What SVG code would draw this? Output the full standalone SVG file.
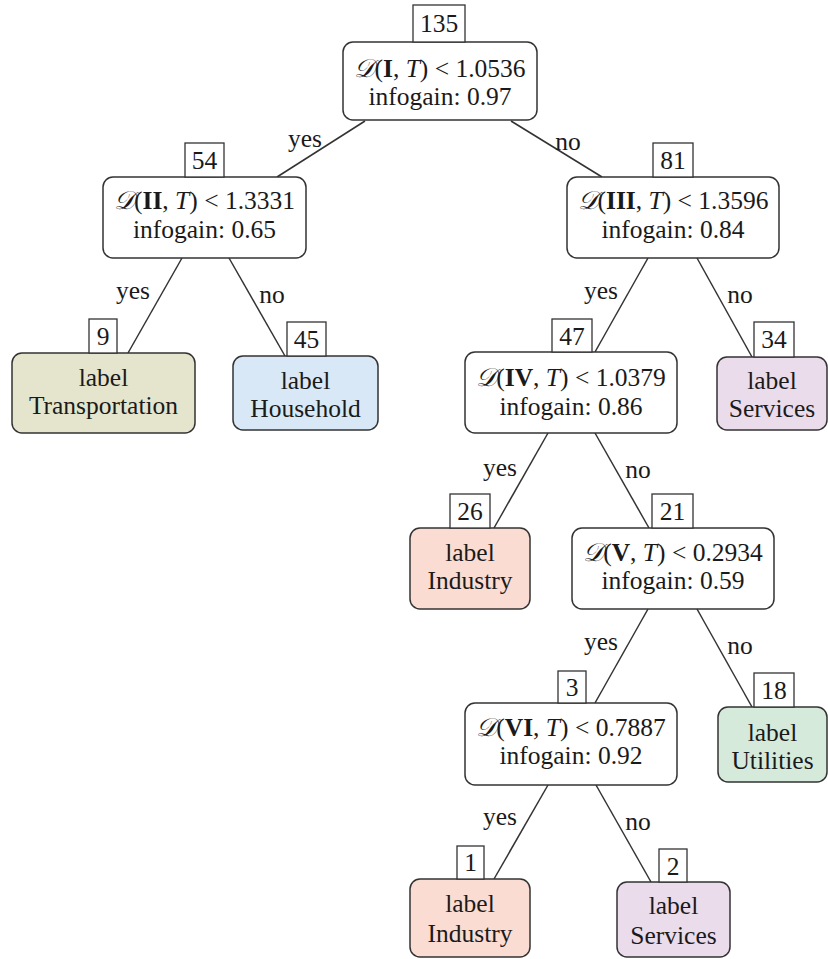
<svg xmlns="http://www.w3.org/2000/svg" width="828" height="959" viewBox="0 0 828 959">
<style>
text{font-family:"Liberation Serif","DejaVu Serif",serif;font-size:25.5px;fill:#1a1a1a;text-anchor:middle}
.box{stroke:#333;stroke-width:1.5}
.dec{fill:#fff}
.cnt{fill:#fff;stroke:#333;stroke-width:1.3}
.edge{stroke:#333;stroke-width:1.5;fill:none}
.tr{fill:#e5e5cd}.ho{fill:#d9e8f6}.se{fill:#ebdcec}.in{fill:#fadcd2}.ut{fill:#d6eadc}
.d{font-style:italic}
</style>
<g id="connectors">
<line class="edge" x1="365" y1="121" x2="277" y2="177"/>
<line class="edge" x1="511" y1="121" x2="602" y2="177"/>
<line class="edge" x1="182" y1="258" x2="128" y2="353"/>
<line class="edge" x1="229" y1="258" x2="285" y2="356"/>
<line class="edge" x1="648" y1="258" x2="595" y2="352"/>
<line class="edge" x1="697" y1="258" x2="752" y2="357"/>
<line class="edge" x1="548" y1="433" x2="494" y2="528"/>
<line class="edge" x1="595" y1="433" x2="649" y2="528"/>
<line class="edge" x1="648" y1="609" x2="595" y2="703"/>
<line class="edge" x1="697" y1="609" x2="752" y2="707"/>
<line class="edge" x1="548" y1="785" x2="494" y2="879"/>
<line class="edge" x1="596" y1="785" x2="651" y2="882"/>
<text x="305" y="147">yes</text>
<text x="568" y="150">no</text>
<text x="133" y="299">yes</text>
<text x="272" y="303">no</text>
<text x="601" y="299">yes</text>
<text x="740" y="303">no</text>
<text x="500" y="476">yes</text>
<text x="638" y="478">no</text>
<text x="601" y="650">yes</text>
<text x="740" y="654">no</text>
<text x="500" y="825">yes</text>
<text x="638" y="830">no</text>
</g>
<g id="n-root">
<rect class="box dec" x="343" y="42" width="194" height="78" rx="10"/>
<text x="440" y="77"><tspan class="d">𝒟</tspan>(<tspan font-weight="bold">I</tspan>, <tspan class="d">T</tspan>) &lt; 1.0536</text>
<text x="440" y="105">infogain: 0.97</text>
<rect class="cnt" x="413" y="5" width="52" height="37"/>
<text x="439" y="32">135</text>
</g>
<g id="n-II">
<rect class="box dec" x="103" y="177" width="203" height="81" rx="10"/>
<text x="204.5" y="209"><tspan class="d">𝒟</tspan>(<tspan font-weight="bold">II</tspan>, <tspan class="d">T</tspan>) &lt; 1.3331</text>
<text x="204.5" y="238">infogain: 0.65</text>
<rect class="cnt" x="185" y="143" width="39" height="34"/>
<text x="204.5" y="169">54</text>
</g>
<g id="n-III">
<rect class="box dec" x="567" y="177" width="212" height="81" rx="10"/>
<text x="673" y="209"><tspan class="d">𝒟</tspan>(<tspan font-weight="bold">III</tspan>, <tspan class="d">T</tspan>) &lt; 1.3596</text>
<text x="673" y="238">infogain: 0.84</text>
<rect class="cnt" x="653" y="143" width="40" height="34"/>
<text x="673" y="169">81</text>
</g>
<g id="n-transport">
<rect class="box tr" x="12" y="353" width="183" height="80" rx="10"/>
<text x="103.5" y="386">label</text>
<text x="103.5" y="414">Transportation</text>
<rect class="cnt" x="89" y="319" width="28" height="34"/>
<text x="103" y="345">9</text>
</g>
<g id="n-household">
<rect class="box ho" x="233" y="356" width="145" height="74" rx="10"/>
<text x="305.5" y="389">label</text>
<text x="305.5" y="417">Household</text>
<rect class="cnt" x="287" y="322" width="39" height="34"/>
<text x="306.5" y="348">45</text>
</g>
<g id="n-IV">
<rect class="box dec" x="465" y="352" width="212" height="81" rx="10"/>
<text x="571" y="386"><tspan class="d">𝒟</tspan>(<tspan font-weight="bold">IV</tspan>, <tspan class="d">T</tspan>) &lt; 1.0379</text>
<text x="571" y="415">infogain: 0.86</text>
<rect class="cnt" x="552" y="319" width="40" height="33"/>
<text x="572" y="345">47</text>
</g>
<g id="n-services1">
<rect class="box se" x="717" y="357" width="110" height="73" rx="10"/>
<text x="772" y="389">label</text>
<text x="772" y="417">Services</text>
<rect class="cnt" x="754" y="322" width="40" height="35"/>
<text x="774" y="348">34</text>
</g>
<g id="n-industry1">
<rect class="box in" x="410" y="528" width="120" height="81" rx="10"/>
<text x="470" y="561">label</text>
<text x="470" y="589">Industry</text>
<rect class="cnt" x="450" y="494" width="40" height="34"/>
<text x="470" y="520">26</text>
</g>
<g id="n-V">
<rect class="box dec" x="572" y="528" width="202" height="81" rx="10"/>
<text x="673" y="561"><tspan class="d">𝒟</tspan>(<tspan font-weight="bold">V</tspan>, <tspan class="d">T</tspan>) &lt; 0.2934</text>
<text x="673" y="589">infogain: 0.59</text>
<rect class="cnt" x="652" y="494" width="41" height="34"/>
<text x="672.5" y="520">21</text>
</g>
<g id="n-VI">
<rect class="box dec" x="465" y="703" width="212" height="82" rx="10"/>
<text x="571" y="736"><tspan class="d">𝒟</tspan>(<tspan font-weight="bold">VI</tspan>, <tspan class="d">T</tspan>) &lt; 0.7887</text>
<text x="571" y="764">infogain: 0.92</text>
<rect class="cnt" x="558" y="671" width="28" height="32"/>
<text x="572" y="696">3</text>
</g>
<g id="n-utilities">
<rect class="box ut" x="718" y="707" width="109" height="75" rx="10"/>
<text x="772.5" y="741">label</text>
<text x="772.5" y="769">Utilities</text>
<rect class="cnt" x="754" y="673" width="40" height="34"/>
<text x="774" y="699">18</text>
</g>
<g id="n-industry2">
<rect class="box in" x="410" y="879" width="120" height="78" rx="10"/>
<text x="470" y="912">label</text>
<text x="470" y="942">Industry</text>
<rect class="cnt" x="457" y="846" width="27" height="33"/>
<text x="470.5" y="871">1</text>
</g>
<g id="n-services2">
<rect class="box se" x="617" y="882" width="113" height="75" rx="10"/>
<text x="673.5" y="914">label</text>
<text x="673.5" y="944">Services</text>
<rect class="cnt" x="659" y="849" width="28" height="33"/>
<text x="673" y="875">2</text>
</g>
</svg>
